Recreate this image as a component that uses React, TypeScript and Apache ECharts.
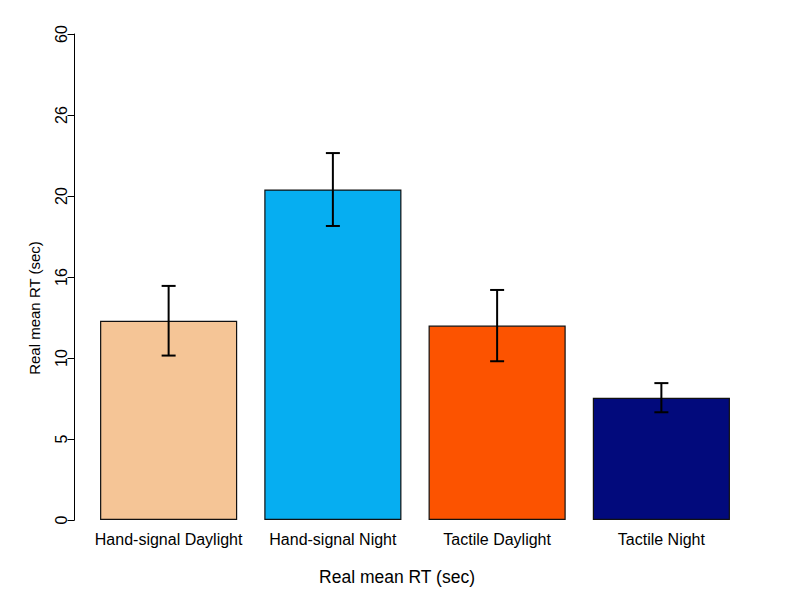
import React, { useEffect, useRef } from "react";
import * as echarts from "echarts";

const categories = ["Hand-signal Daylight", "Hand-signal Night", "Tactile Daylight", "Tactile Night"];
const means = [12.3, 20.4, 12.0, 7.55];
const errors = [2.15, 2.25, 2.2, 0.9];
const barColors = ["#F5C596", "#06AEF1", "#FC5300", "#020A7C"];
const yTickLabels = ["0", "5", "10", "16", "20", "26", "60"];
const axisTitle = "Real mean RT (sec)";

const FONT = "'Liberation Sans', Arial, Helvetica, sans-serif";

export default function App() {
  const ref = useRef<HTMLDivElement>(null);
  useEffect(() => {
    document.body.style.margin = "0";
    if (!ref.current) return;
    const chart = echarts.init(ref.current, null, { renderer: "svg" });
    const errData = means.map((m, i) => [i, m - errors[i], m + errors[i]]);
    chart.setOption({
      animation: false,
      backgroundColor: "#ffffff",
      textStyle: { fontFamily: FONT },
      grid: { left: 86.5, right: 56.5, top: 34, bottom: 80, containLabel: false },
      xAxis: {
        type: "category",
        data: categories,
        axisLine: { show: false },
        axisTick: { show: false },
        axisLabel: { color: "#000", fontSize: 16, fontFamily: FONT, margin: 11, interval: 0 },
      },
      yAxis: {
        type: "value",
        min: 0,
        max: 30,
        interval: 5,
        offset: 12,
        splitLine: { show: false },
        axisLine: { show: true, lineStyle: { color: "#000", width: 1 } },
        axisTick: { show: true, length: 7, lineStyle: { color: "#000", width: 1 } },
        axisLabel: {
          color: "#000",
          fontSize: 16,
          fontFamily: FONT,
          rotate: 90,
          margin: 5,
          formatter: (v: number) => yTickLabels[Math.round(v / 5)] ?? String(v),
        },
      },
      graphic: [
        {
          type: "text",
          x: 34,
          y: 308,
          rotation: Math.PI / 2,
          style: {
            text: axisTitle,
            fill: "#000",
            font: `15px ${FONT}`,
            textAlign: "center",
            textVerticalAlign: "middle",
          },
        },
        {
          type: "text",
          x: 397,
          y: 577,
          style: {
            text: axisTitle,
            fill: "#000",
            font: `17.5px ${FONT}`,
            textAlign: "center",
            textVerticalAlign: "middle",
          },
        },
      ],
      series: [
        {
          type: "bar",
          data: means.map((v, i) => ({
            value: v,
            itemStyle: { color: barColors[i], borderColor: "#111", borderWidth: 1.2 },
          })),
          barCategoryGap: "16.5%",
        },
        {
          type: "custom",
          data: errData,
          z: 10,
          renderItem: (params: any, api: any) => {
            const x = api.value(0);
            const lo = api.coord([x, api.value(1)]);
            const hi = api.coord([x, api.value(2)]);
            const cx = lo[0];
            const hw = 7;
            const style = { stroke: "#000", lineWidth: 2 };
            return {
              type: "group",
              children: [
                { type: "line", shape: { x1: cx, y1: lo[1], x2: cx, y2: hi[1] }, style },
                { type: "line", shape: { x1: cx - hw, y1: hi[1], x2: cx + hw, y2: hi[1] }, style },
                { type: "line", shape: { x1: cx - hw, y1: lo[1], x2: cx + hw, y2: lo[1] }, style },
              ],
            };
          },
        },
      ],
    });
    return () => chart.dispose();
  }, []);
  return <div ref={ref} style={{ width: 800, height: 600 }} />;
}
